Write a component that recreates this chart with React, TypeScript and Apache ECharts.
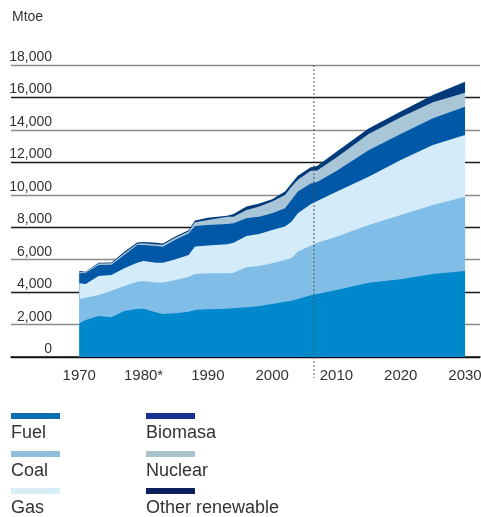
import React, { useEffect, useRef } from "react";
import * as echarts from "echarts";

const years = [1970, 1971, 1973, 1975, 1977, 1979, 1980, 1982, 1983, 1985, 1987, 1988, 1990, 1993, 1994, 1996, 1998, 2000, 2002, 2003, 2004, 2006, 2007, 2010, 2015, 2020, 2025, 2030];
const fuel = [2080, 2280, 2530, 2450, 2840, 2960, 2980, 2750, 2650, 2690, 2790, 2900, 2940, 2980, 3000, 3060, 3140, 3270, 3410, 3470, 3580, 3800, 3880, 4130, 4580, 4790, 5120, 5300];
const coal = [1480, 1370, 1290, 1640, 1540, 1680, 1710, 1850, 1950, 2060, 2160, 2220, 2220, 2180, 2200, 2470, 2470, 2510, 2570, 2610, 2920, 3060, 3170, 3290, 3550, 3970, 4250, 4580];
const gas = [980, 850, 1170, 970, 1090, 1170, 1230, 1210, 1210, 1270, 1330, 1690, 1710, 1790, 1850, 1930, 1970, 2050, 2060, 2260, 2360, 2560, 2570, 2770, 2980, 3390, 3700, 3800];
const biomasa = [620, 680, 680, 620, 820, 1090, 990, 1030, 990, 1230, 1340, 1270, 1270, 1250, 1190, 1090, 1070, 1030, 1130, 1340, 1340, 1280, 1170, 1270, 1640, 1600, 1640, 1750];
const nuclear = [80, 40, 100, 100, 100, 80, 100, 100, 120, 120, 120, 230, 310, 450, 410, 510, 620, 720, 820, 820, 720, 780, 700, 840, 990, 1030, 990, 860];
const otherRenewable = [60, 30, 40, 40, 100, 80, 80, 100, 80, 80, 80, 100, 140, 60, 160, 210, 200, 140, 210, 200, 250, 210, 290, 350, 350, 350, 450, 680];

const labelYears = [1970, 1980, 1990, 2000, 2010, 2020, 2030];
const projectionStartYear = 2006.5;
const unitLabel = "Mtoe";

const seriesDefs = [
  { name: "Fuel", data: fuel, area: "#0088cc", swatch: "#0b6fb0" },
  { name: "Coal", data: coal, area: "#80bee8", swatch: "#8ec0de" },
  { name: "Gas", data: gas, area: "#d4ecfa", swatch: "#d8eef6" },
  { name: "Biomasa", data: biomasa, area: "#0058a6", swatch: "#17338f" },
  { name: "Nuclear", data: nuclear, area: "#a8c6d7", swatch: "#a8c3cb" },
  { name: "Other renewable", data: otherRenewable, area: "#003a7a", swatch: "#0b1f5c" },
];

const FONT = "'Liberation Sans', Arial, Helvetica, sans-serif";
const TEXT = "#333333";

export default function App() {
  const ref = useRef<HTMLDivElement>(null);
  useEffect(() => {
    if (!ref.current) return;
    const chart = echarts.init(ref.current, null, { renderer: "svg" });

    // cumulative tops, each layer drawn from 0 to its cumulative top;
    // lower layers are drawn later so they cover the upper ones.
    const running = years.map(() => 0);
    const cumulative = seriesDefs.map((d) =>
      years.map((y, i) => {
        running[i] += d.data[i];
        return [y, running[i]];
      })
    );
    const series = seriesDefs
      .map((d, k) => ({
        name: d.name,
        type: "line",
        data: cumulative[k],
        showSymbol: false,
        symbol: "none",
        lineStyle: { width: 0, color: d.area },
        itemStyle: { color: d.area },
        areaStyle: { color: d.area, opacity: 1 },
        silent: true,
        emphasis: { disabled: true },
        z: 2 + (seriesDefs.length - k),
      }))
      .reverse();

    const colX = [11, 146];
    const rowY = [413, 451, 488];
    const legend: any[] = [];
    seriesDefs.forEach((d, i) => {
      const col = Math.floor(i / 3);
      const row = i % 3;
      legend.push({
        type: "rect",
        shape: { x: colX[col], y: rowY[row], width: 49, height: 6 },
        style: { fill: d.swatch },
      });
      legend.push({
        type: "text",
        x: colX[col],
        y: rowY[row] + 9.5,
        style: { text: d.name, font: `18px ${FONT}`, fill: TEXT, verticalAlign: "top", align: "left" },
      });
    });

    const baseGraphic = [
      {
        type: "text",
        x: 12,
        y: 9,
        style: { text: unitLabel, font: `14px ${FONT}`, fill: TEXT, verticalAlign: "top" },
      },
      ...legend,
    ];

    chart.setOption({
      animation: false,
      grid: { left: 11, right: 1, top: 65, bottom: 160, containLabel: false, outerBoundsMode: "none" },
      xAxis: {
        type: "value",
        min: 1959.38,
        max: 2032.33,
        axisLine: { show: true, lineStyle: { color: "#111", width: 1.5 } },
        axisTick: { show: false },
        splitLine: { show: false },
        axisLabel: {
          customValues: labelYears,
          formatter: (v: number) => (v === 1980 ? "1980*" : String(v)),
          fontSize: 15,
          fontFamily: FONT,
          color: TEXT,
          margin: 10,
          hideOverlap: false,
        },
      },
      yAxis: {
        type: "value",
        min: 0,
        max: 18000,
        interval: 2000,
        axisLine: { show: false },
        axisTick: { show: false },
        splitLine: { show: true, lineStyle: { color: ["#1a1a1a", "#8a8a8a"], width: 1.3 } },
        axisLabel: {
          inside: true,
          margin: 41,
          align: "right",
          verticalAlign: "bottom",
          padding: [0, 0, 2, 0],
          fontSize: 14,
          fontFamily: FONT,
          color: TEXT,
          formatter: (v: number) => v.toLocaleString("en-US"),
        },
      },
      series,
      graphic: baseGraphic,
    });

    const px = chart.convertToPixel({ xAxisIndex: 0 }, projectionStartYear) as number;
    chart.setOption({
      graphic: [
        ...baseGraphic,
        {
          type: "line",
          z: 100,
          shape: { x1: px, y1: 65, x2: px, y2: 378 },
          style: { stroke: "#555", lineWidth: 1, lineDash: [2, 2] },
        },
      ],
    });

    return () => chart.dispose();
  }, []);
  return <div ref={ref} style={{ position: "fixed", left: 0, top: 0, width: 481, height: 517 }} />;
}
